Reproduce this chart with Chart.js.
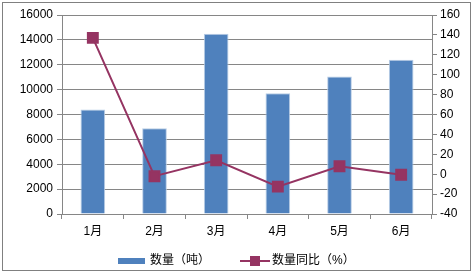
<!DOCTYPE html>
<html>
<head>
<meta charset="utf-8">
<script src="https://cdn.jsdelivr.net/npm/chart.js@4"></script>
<style>
  html, body { margin: 0; padding: 0; background: #fff; }
  #wrap { width: 475px; height: 274px; position: relative; }
</style>
</head>
<body>
<div id="wrap"><canvas id="chart"></canvas></div>
<script>
// months and values
const months = ["1月", "2月", "3月", "4月", "5月", "6月"];
const amount = [8400, 6900, 14500, 9700, 11050, 12400];
const amountYoY = [137, -2, 14, -12.5, 8, -0.5];
const amountLabel = "数量（吨）";
const yoyLabel = "数量同比（%）";

const FONT = "'Liberation Sans', 'Noto Sans CJK SC', sans-serif";
const barColor = "#4F81BD";
const lineColor = "#953462";
const gridColor = "#868686";

// frame + custom legend, drawn on the canvas
const frameLegend = {
    id: "frameLegend",
    afterDraw(chart) {
        const ctx = chart.ctx;
        ctx.save();
        ctx.strokeStyle = "#808080";
        ctx.lineWidth = 1;
        ctx.strokeRect(2.5, 2.5, 468, 268);

        const y = 261;
        ctx.fillStyle = barColor;
        ctx.fillRect(118, y - 3, 27, 6);
        ctx.font = "12px " + FONT;
        ctx.fillStyle = "#000";
        ctx.textBaseline = "middle";
        ctx.fillText(amountLabel, 150, y);

        ctx.strokeStyle = lineColor;
        ctx.lineWidth = 2;
        ctx.beginPath();
        ctx.moveTo(240, y);
        ctx.lineTo(270, y);
        ctx.stroke();
        ctx.fillStyle = lineColor;
        ctx.fillRect(250, y - 5, 10, 10);
        ctx.fillStyle = "#000";
        ctx.fillText(yoyLabel, 272, y);
        ctx.restore();
    }
};

const plainTick = (v) => String(v);

const ctx = document.getElementById("chart").getContext("2d");
new Chart(ctx, {
    data: {
        labels: months,
        datasets: [
            {
                type: "line",
                label: yoyLabel,
                data: amountYoY,
                yAxisID: "y1",
                borderColor: lineColor,
                backgroundColor: lineColor,
                borderWidth: 2,
                pointStyle: "rect",
                pointRadius: 7,
                pointHoverRadius: 7,
                tension: 0,
                order: 0
            },
            {
                type: "bar",
                label: amountLabel,
                data: amount,
                yAxisID: "y",
                backgroundColor: barColor,
                borderColor: "#B9CDE5",
                borderWidth: 1,
                categoryPercentage: 1,
                barPercentage: 0.4,
                order: 1
            }
        ]
    },
    options: {
        responsive: true,
        maintainAspectRatio: false,
        animation: false,
        layout: { padding: { top: 15, left: 0, right: 0, bottom: 34 } },
        plugins: {
            legend: { display: false },
            tooltip: { enabled: false }
        },
        scales: {
            x: {
                offset: true,
                grid: {
                    offset: true,
                    drawOnChartArea: false,
                    color: gridColor,
                    tickLength: 5
                },
                border: { color: gridColor },
                ticks: { color: "#000", font: { family: FONT, size: 12 }, padding: 5 },
                afterFit(scale) { scale.height = 26; }
            },
            y: {
                position: "left",
                min: 0,
                max: 16000,
                ticks: { stepSize: 2000, color: "#000", font: { family: FONT, size: 12 }, padding: 4, callback: plainTick },
                grid: { color: gridColor, tickLength: 5 },
                border: { color: gridColor },
                afterFit(scale) { scale.width = 62; }
            },
            y1: {
                position: "right",
                min: -40,
                max: 160,
                ticks: { stepSize: 20, color: "#000", font: { family: FONT, size: 12 }, padding: 3, callback: plainTick },
                grid: { drawOnChartArea: false, color: gridColor, tickLength: 5 },
                border: { color: gridColor },
                afterFit(scale) { scale.width = 43; }
            }
        }
    },
    plugins: [frameLegend]
});
</script>
</body>
</html>
